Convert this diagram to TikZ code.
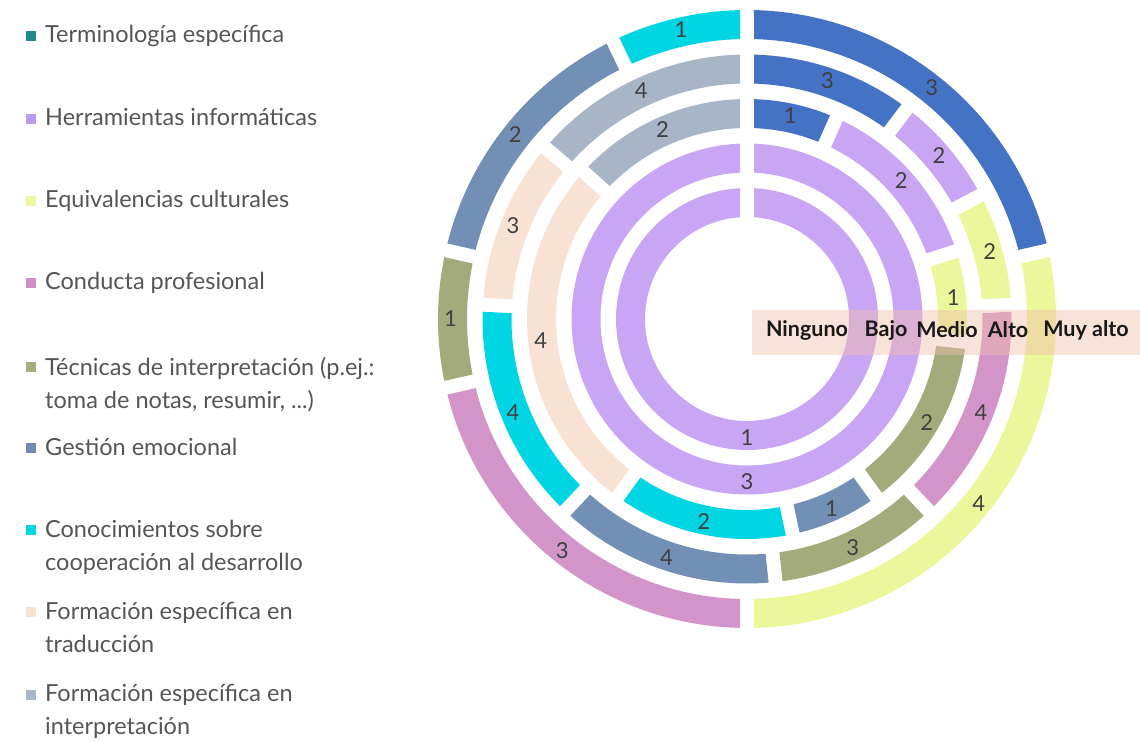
\documentclass[tikz,border=0pt]{standalone}
\usepackage{fontspec}
\setmainfont{Lato}
\usetikzlibrary{calc}

% chart colours
\definecolor{termblue}{HTML}{4472C4}
\definecolor{herrpurple}{HTML}{C9A6F4}
\definecolor{equivyellow}{HTML}{ECF69B}
\definecolor{condpink}{HTML}{D394C9}
\definecolor{tecolive}{HTML}{A3AB7B}
\definecolor{geststeel}{HTML}{7290B5}
\definecolor{coopcyan}{HTML}{00D6E3}
\definecolor{tradpeach}{HTML}{F7E2D3}
\definecolor{interpgray}{HTML}{A8B5C6}
% legend colours
\definecolor{legteal}{HTML}{1E8C8F}
\definecolor{legpurple}{HTML}{B99CF0}
\definecolor{legyellow}{HTML}{EEF7A0}
\definecolor{legpink}{HTML}{D08FC8}
\definecolor{legolive}{HTML}{A4AD7C}
\definecolor{legsteel}{HTML}{7089B2}
\definecolor{legcyan}{HTML}{00D5E3}
\definecolor{legpeach}{HTML}{F6E0D0}
\definecolor{leggray}{HTML}{A9B6C8}
\definecolor{legendgray}{HTML}{555555}
\definecolor{labelgray}{HTML}{404040}
\definecolor{bandfill}{HTML}{F0C0AC}

% one ring segment: name, colour, inner r, outer r, start, end (degrees clockwise from top), label
\newcommand{\ringseg}[7]{%
  \pgfmathsetmacro{\gapin}{asin(7/#3)}%
  \pgfmathsetmacro{\gapout}{asin(7/#4)}%
  \pgfmathsetmacro{\segA}{90-(#5)-\gapout}%
  \pgfmathsetmacro{\segB}{90-(#6)+\gapout}%
  \pgfmathsetmacro{\segC}{90-(#6)+\gapin}%
  \pgfmathsetmacro{\segD}{90-(#5)-\gapin}%
  \pgfmathsetmacro{\segM}{90-((#5)+(#6))/2}%
  \pgfmathsetmacro{\segR}{((#3)+(#4))/2+2}%
  \fill[#2] (\segA:#4pt) arc[start angle=\segA, end angle=\segB, radius=#4pt]
    -- (\segC:#3pt) arc[start angle=\segC, end angle=\segD, radius=#3pt] -- cycle;
  \node[seglabel] (#1) at (\segM:\segR pt) {#7};%
}

\begin{document}
\begin{tikzpicture}[x=1pt, y=1pt,
    legsq/.style={minimum size=10pt, inner sep=0pt},
    legtext/.style={anchor=base west, align=left, inner sep=0pt, text=legendgray,
      font=\fontsize{23.5}{33}\selectfont},
    seglabel/.style={text=labelgray, font=\fontsize{22}{26}\selectfont, inner sep=0pt},
    bandtext/.style={font=\bfseries\fontsize{21.5}{25}\selectfont, text=black!90, inner sep=0pt}]
    \useasboundingbox (0,0) rectangle (1140,740);

    % Draw the legend (multi-line entries sit on the baseline of their last line)
    \node[legsq, fill=legteal] (sqterm) at (31,704) {};
    \node[legtext] (legterm) at (45,697) {Terminología específica};
    \node[legsq, fill=legpurple] (sqherr) at (31,621) {};
    \node[legtext] (legherr) at (45,614) {Herramientas informáticas};
    \node[legsq, fill=legyellow] (sqequiv) at (31,539) {};
    \node[legtext] (legequiv) at (45,532) {Equivalencias culturales};
    \node[legsq, fill=legpink] (sqcond) at (31,457) {};
    \node[legtext] (legcond) at (45,450) {Conducta profesional};
    \node[legsq, fill=legolive] (sqtec) at (31,373) {};
    \node[legtext] (legtec) at (45,332) {Técnicas de interpretación (p.ej.:\\toma de notas, resumir, ...)};
    \node[legsq, fill=legsteel] (sqgest) at (31,292) {};
    \node[legtext] (leggest) at (45,285) {Gestión emocional};
    \node[legsq, fill=legcyan] (sqcoop) at (31,210) {};
    \node[legtext] (legcoop) at (45,170) {Conocimientos sobre\\cooperación al desarrollo};
    \node[legsq, fill=legpeach] (sqtrad) at (31,128) {};
    \node[legtext] (legtrad) at (45,88) {Formación específica en\\traducción};
    \node[legsq, fill=leggray] (sqinterp) at (31,45) {};
    \node[legtext] (leginterp) at (45,6) {Formación específica en\\interpretación};

    % Draw the rings
    \begin{scope}[shift={(747,421)}]
        % outer ring
        \ringseg{oterm}{termblue}{280}{309}{0}{3*360/14}{3}
        \ringseg{oequiv}{equivyellow}{280}{309}{3*360/14}{7*360/14}{4}
        \ringseg{ocond}{condpink}{280}{309}{7*360/14}{10*360/14}{3}
        \ringseg{otec}{tecolive}{280}{309}{10*360/14}{11*360/14}{1}
        \ringseg{ogest}{geststeel}{280}{309}{11*360/14}{13*360/14}{2}
        \ringseg{ocoop}{coopcyan}{280}{309}{13*360/14}{360}{1}
        % second ring
        \ringseg{sterm}{termblue}{235.5}{264.5}{0}{3*360/29}{3}
        \ringseg{sherr}{herrpurple}{235.5}{264.5}{3*360/29}{5*360/29}{2}
        \ringseg{sequiv}{equivyellow}{235.5}{264.5}{5*360/29}{7*360/29}{2}
        \ringseg{scond}{condpink}{235.5}{264.5}{7*360/29}{11*360/29}{4}
        \ringseg{stec}{tecolive}{235.5}{264.5}{11*360/29}{14*360/29}{3}
        \ringseg{sgest}{geststeel}{235.5}{264.5}{14*360/29}{18*360/29}{4}
        \ringseg{scoop}{coopcyan}{235.5}{264.5}{18*360/29}{22*360/29}{4}
        \ringseg{strad}{tradpeach}{235.5}{264.5}{22*360/29}{25*360/29}{3}
        \ringseg{sinterp}{interpgray}{235.5}{264.5}{25*360/29}{360}{4}
        % middle ring
        \ringseg{mterm}{termblue}{191}{220}{0}{24}{1}
        \ringseg{mherr}{herrpurple}{191}{220}{24}{72}{2}
        \ringseg{mequiv}{equivyellow}{191}{220}{72}{96}{1}
        \ringseg{mtec}{tecolive}{191}{220}{96}{144}{2}
        \ringseg{mgest}{geststeel}{191}{220}{144}{168}{1}
        \ringseg{mcoop}{coopcyan}{191}{220}{168}{216}{2}
        \ringseg{mtrad}{tradpeach}{191}{220}{216}{312}{4}
        \ringseg{minterp}{interpgray}{191}{220}{312}{360}{2}
        % fourth ring
        \ringseg{fherr}{herrpurple}{146.5}{175.5}{0}{360}{3}
        % inner ring
        \ringseg{iherr}{herrpurple}{102}{131}{0}{360}{1}
    \end{scope}

    % Draw the level band
    \fill[bandfill, opacity=0.45] (752,385) rectangle (1140,430);
    \node[bandtext] (ninguno) at (807,410) {Ninguno};
    \node[bandtext] (bajo) at (886,410) {Bajo};
    \node[bandtext] (medio) at (947,410) {Medio};
    \node[bandtext] (alto) at (1008,410) {Alto};
    \node[bandtext] (muyalto) at (1086,410) {Muy alto};
\end{tikzpicture}
\end{document}
